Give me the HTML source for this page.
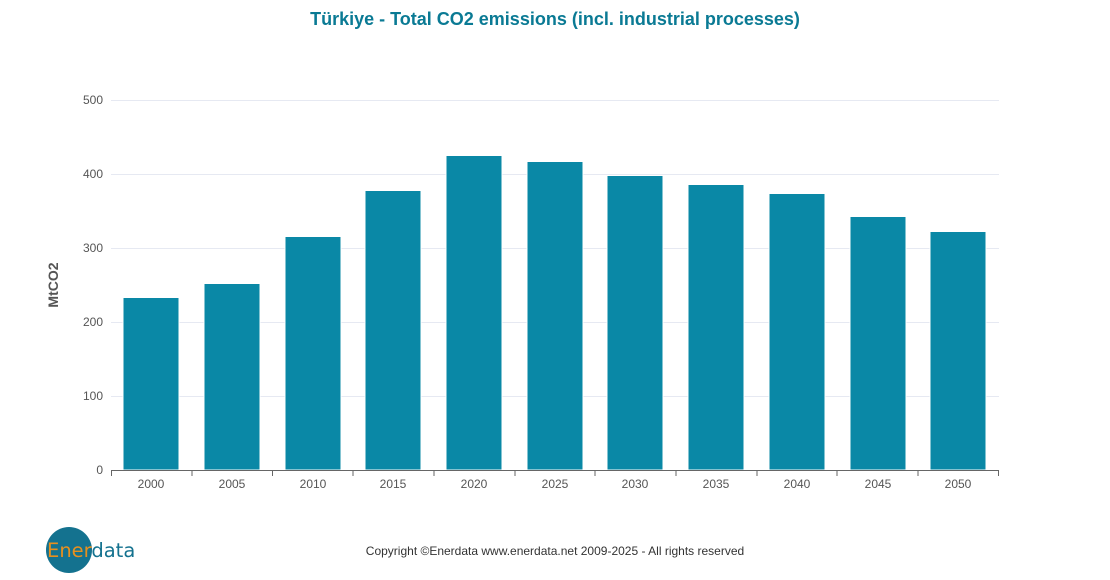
<!DOCTYPE html>
<html><head><meta charset="utf-8"><style>body{margin:0;background:#fff;}svg{display:block}</style></head><body>
<svg width="1110" height="580" xmlns="http://www.w3.org/2000/svg" font-family="Liberation Sans, DejaVu Sans, sans-serif">
<rect width="1110" height="580" fill="#fff"/>
<text x="555" y="25" text-anchor="middle" font-size="18" font-weight="bold" fill="#0a7a94">Türkiye - Total CO2 emissions (incl. industrial processes)</text>
<g stroke="#e6e9f2" stroke-width="1">
<line x1="111" x2="999" y1="100.5" y2="100.5"/><line x1="111" x2="999" y1="174.5" y2="174.5"/>
<line x1="111" x2="999" y1="248.5" y2="248.5"/><line x1="111" x2="999" y1="322.5" y2="322.5"/>
<line x1="111" x2="999" y1="396.5" y2="396.5"/>
</g>
<g font-size="12" fill="#555" text-anchor="end">
<text x="103" y="104">500</text><text x="103" y="178">400</text><text x="103" y="252">300</text>
<text x="103" y="326">200</text><text x="103" y="400">100</text><text x="103" y="474">0</text>
</g>
<text transform="translate(58,285) rotate(-90)" text-anchor="middle" font-size="14" font-weight="bold" fill="#555">MtCO2</text>
<g fill="#0a88a6" stroke="#fff" stroke-width="1">
<rect x="123" y="297.5" width="56" height="172.5"/>
<rect x="204" y="283.5" width="56" height="186.5"/>
<rect x="285" y="236.5" width="56" height="233.5"/>
<rect x="365" y="190.5" width="56" height="279.5"/>
<rect x="446" y="155.5" width="56" height="314.5"/>
<rect x="527" y="161.5" width="56" height="308.5"/>
<rect x="607" y="175.5" width="56" height="294.5"/>
<rect x="688" y="184.5" width="56" height="285.5"/>
<rect x="769" y="193.5" width="56" height="276.5"/>
<rect x="850" y="216.5" width="56" height="253.5"/>
<rect x="930" y="231.5" width="56" height="238.5"/>
</g>
<line x1="111" x2="999" y1="470.5" y2="470.5" stroke="#666"/>
<g stroke="#666">
<line x1="111.5" x2="111.5" y1="470" y2="476"/><line x1="192" x2="192" y1="470" y2="476"/>
<line x1="272.5" x2="272.5" y1="470" y2="476"/><line x1="353" x2="353" y1="470" y2="476"/>
<line x1="434" x2="434" y1="470" y2="476"/><line x1="515" x2="515" y1="470" y2="476"/>
<line x1="595" x2="595" y1="470" y2="476"/><line x1="676" x2="676" y1="470" y2="476"/>
<line x1="757" x2="757" y1="470" y2="476"/><line x1="837" x2="837" y1="470" y2="476"/>
<line x1="918" x2="918" y1="470" y2="476"/><line x1="998.5" x2="998.5" y1="470" y2="476"/>
</g>
<g font-size="12" fill="#555" text-anchor="middle">
<text x="151" y="488">2000</text><text x="232" y="488">2005</text><text x="313" y="488">2010</text>
<text x="393" y="488">2015</text><text x="474" y="488">2020</text><text x="555" y="488">2025</text>
<text x="635" y="488">2030</text><text x="716" y="488">2035</text><text x="797" y="488">2040</text>
<text x="878" y="488">2045</text><text x="958" y="488">2050</text>
</g>
<text x="555" y="555" text-anchor="middle" font-size="12" fill="#333">Copyright ©Enerdata www.enerdata.net 2009-2025 - All rights reserved</text>
<circle cx="69" cy="550" r="23" fill="#14728f"/>
<text x="47" y="557" font-size="19.5" font-family="DejaVu Sans, sans-serif"><tspan fill="#e8901e">Ener</tspan><tspan fill="#14728f">data</tspan></text>
</svg>
</body></html>
